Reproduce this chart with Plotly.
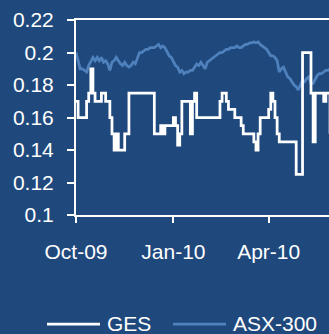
import plotly.graph_objects as go
import pandas as pd

# Data: readings every 2 days from 1 Oct 2009
start_date = "2009-10-01"
n_points = 121
dates = pd.date_range(start_date, periods=n_points, freq="2D")

ges = [0.17, 0.16, 0.16, 0.16, 0.16, 0.17, 0.175, 0.19, 0.175, 0.17,
       0.17, 0.17, 0.175, 0.175, 0.17, 0.17, 0.16, 0.15, 0.14, 0.15,
       0.14, 0.14, 0.14, 0.15, 0.15, 0.175, 0.175, 0.175, 0.175, 0.175,
       0.175, 0.175, 0.175, 0.175, 0.175, 0.175, 0.175, 0.15, 0.15, 0.15,
       0.155, 0.15, 0.155, 0.155, 0.155, 0.155, 0.16, 0.155, 0.143, 0.15,
       0.17, 0.17, 0.17, 0.17, 0.15, 0.17, 0.175, 0.16, 0.16, 0.16,
       0.16, 0.16, 0.16, 0.16, 0.16, 0.16, 0.16, 0.16, 0.17, 0.175,
       0.175, 0.17, 0.165, 0.165, 0.165, 0.16, 0.16, 0.16, 0.155, 0.15,
       0.15, 0.15, 0.15, 0.15, 0.145, 0.14, 0.15, 0.16, 0.16, 0.16,
       0.16, 0.165, 0.175, 0.17, 0.16, 0.15, 0.145, 0.145, 0.145, 0.145,
       0.145, 0.145, 0.145, 0.145, 0.125, 0.125, 0.125, 0.2, 0.2, 0.2,
       0.2, 0.175, 0.145, 0.175, 0.175, 0.175, 0.175, 0.17, 0.175, 0.175,
       0.15]

asx300 = [0.200, 0.194, 0.190, 0.190, 0.189, 0.188, 0.192, 0.195, 0.197, 0.195,
          0.197, 0.195, 0.197, 0.194, 0.195, 0.193, 0.189, 0.194, 0.195, 0.197,
          0.195, 0.193, 0.192, 0.194, 0.192, 0.191, 0.192, 0.194, 0.193, 0.197,
          0.200, 0.200, 0.201, 0.202, 0.202, 0.203, 0.203, 0.203, 0.204, 0.205,
          0.203, 0.204, 0.203, 0.200, 0.198, 0.197, 0.194, 0.192, 0.191, 0.188,
          0.189, 0.187, 0.188, 0.188, 0.189, 0.189, 0.191, 0.193, 0.192, 0.194,
          0.192, 0.190, 0.194, 0.195, 0.196, 0.197, 0.198, 0.199, 0.200, 0.200,
          0.201, 0.202, 0.202, 0.203, 0.203, 0.203, 0.204, 0.203, 0.203, 0.204,
          0.205, 0.205, 0.206, 0.206, 0.2065, 0.206, 0.2065, 0.205, 0.204, 0.203,
          0.202, 0.200, 0.198, 0.198, 0.197, 0.195, 0.188, 0.190, 0.191, 0.188,
          0.185, 0.184, 0.182, 0.180, 0.179, 0.177, 0.180, 0.183, 0.182, 0.184,
          0.185, 0.181, 0.181, 0.184, 0.186, 0.187, 0.187, 0.188, 0.189, 0.189,
          0.190]

series_names = ["GES", "ASX-300"]
y_tick_vals = [0.1, 0.12, 0.14, 0.16, 0.18, 0.2, 0.22]
y_tick_text = ["0.1", "0.12", "0.14", "0.16", "0.18", "0.2", "0.22"]
x_tick_vals = ["2009-10-01", "2010-01-01", "2010-04-01"]
x_tick_text = ["Oct-09", "Jan-10", "Apr-10"]

BG = "#1F497D"
WHITE = "#FFFFFF"
BLUE = "#4F81BD"
FONT = "Liberation Sans, Arial, sans-serif"

W, H = 329, 334
ML, MR, MT, MB = 76, 0, 20, 119
plot_w = W - ML - MR
plot_h = H - MT - MB

def px_x(p):
    return (p - ML) / plot_w

def px_y(p):
    return (H - MB - p) / plot_h

fig = go.Figure()
fig.add_trace(go.Scatter(x=dates, y=asx300, mode="lines", name=series_names[1],
                         line=dict(color=BLUE, width=2.75)))
fig.add_trace(go.Scatter(x=dates, y=ges, mode="lines", name=series_names[0],
                         line=dict(color=WHITE, width=2.75, shape="hv")))

# Manual legend
legend_items = [(47, 100, 105, WHITE, series_names[0]), (173, 226, 231, BLUE, series_names[1])]
shapes = []
annotations = []
for x0, x1, xt, col, name in legend_items:
    shapes.append(dict(type="line", xref="paper", yref="paper",
                       x0=px_x(x0), x1=px_x(x1), y0=px_y(324), y1=px_y(324),
                       line=dict(color=col, width=2.75)))
    annotations.append(dict(xref="paper", yref="paper", x=px_x(xt), y=px_y(323),
                            xanchor="left", yanchor="middle", text=name, showarrow=False,
                            font=dict(family=FONT, size=21, color=WHITE)))

fig.update_layout(
    width=W, height=H,
    margin=dict(l=ML, r=MR, t=MT, b=MB, pad=0),
    paper_bgcolor=BG, plot_bgcolor=BG,
    showlegend=False,
    shapes=shapes, annotations=annotations,
    font=dict(family=FONT, size=21, color=WHITE),
)
fig.update_xaxes(
    type="date", range=["2009-10-01", "2010-05-28"],
    tickvals=x_tick_vals, ticktext=x_tick_text,
    showgrid=False, zeroline=False,
    showline=True, linecolor=WHITE, linewidth=2,
    mirror=True,
    ticks="outside", ticklen=6, tickwidth=2, tickcolor=WHITE,
    ticklabelstandoff=11,
    tickfont=dict(family=FONT, size=21, color=WHITE),
)
fig.update_yaxes(
    range=[0.1, 0.22], tickvals=y_tick_vals, ticktext=y_tick_text,
    showgrid=False, zeroline=False,
    showline=True, linecolor=WHITE, linewidth=2,
    ticks="outside", ticklen=7, tickwidth=2, tickcolor=WHITE,
    ticklabelstandoff=9,
    tickfont=dict(family=FONT, size=21, color=WHITE),
)

fig.write_html("out.html")
